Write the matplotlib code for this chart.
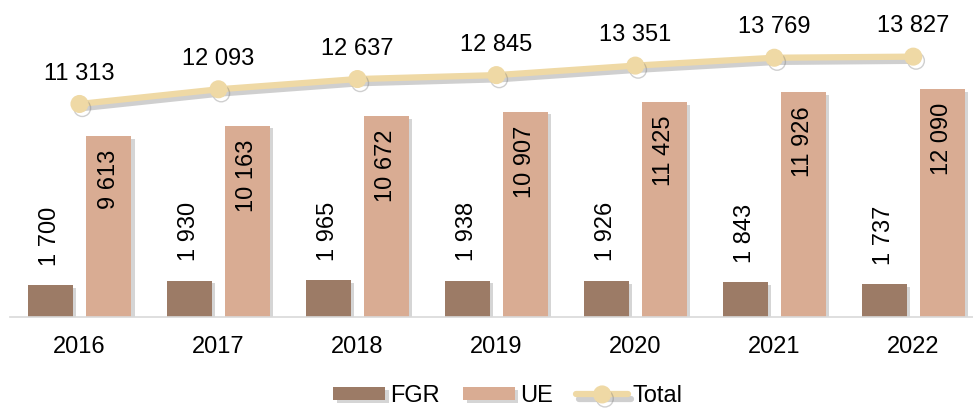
import numpy as np
import matplotlib
matplotlib.use("Agg")
import matplotlib.pyplot as plt
import matplotlib.patheffects as pe

years = ["2016", "2017", "2018", "2019", "2020", "2021", "2022"]
fgr = [1700, 1930, 1965, 1938, 1926, 1843, 1737]
ue = [9613, 10163, 10672, 10907, 11425, 11926, 12090]
total = [11313, 12093, 12637, 12845, 13351, 13769, 13827]

def fmt(v):
    return "{:,}".format(v).replace(",", " ")

plt.rcParams['font.family'] = ['Liberation Sans', 'DejaVu Sans']
fs = 17

fig = plt.figure(figsize=(9.73, 4.08), dpi=100)
ax = fig.add_axes([10 / 973, 1 - 317 / 408, 963 / 973, 317 / 408])

x = np.arange(len(years))
w = 0.324
off = 0.209
shadow = [pe.SimplePatchShadow(offset=(2.5, -2), shadow_rgbFace='#888888', alpha=0.35), pe.Normal()]

b1 = ax.bar(x - off, fgr, w, color='#9C7B66', label='FGR', zorder=2)
b2 = ax.bar(x + off, ue, w, color='#D9AC93', label='UE', zorder=2)
for b in list(b1) + list(b2):
    b.set_path_effects(shadow)

ln, = ax.plot(x, total, color='#EFD9A5', lw=4.5, marker='o', ms=12,
              label='Total', zorder=3, solid_capstyle='round',
              path_effects=[pe.SimpleLineShadow(offset=(2, -3), shadow_color='#777777', alpha=0.35), pe.Normal()])

for i in range(len(years)):
    ax.annotate(fmt(fgr[i]), (x[i] - off, fgr[i]), xytext=(0, 14), textcoords='offset points',
                rotation=90, ha='center', va='bottom', fontsize=fs)
    ax.annotate(fmt(ue[i]), (x[i] + off, ue[i]), xytext=(0, -10), textcoords='offset points',
                rotation=90, ha='center', va='top', fontsize=fs)
    ax.annotate(fmt(total[i]), (x[i], total[i]), xytext=(0, 14), textcoords='offset points',
                ha='center', va='bottom', fontsize=fs)

ax.set_xlim(-0.5, 6.43)
ax.set_ylim(0, 317 / 0.01883)
for s in ['top', 'right', 'left']:
    ax.spines[s].set_visible(False)
ax.spines['bottom'].set_color('#D9D9D9')
ax.spines['bottom'].set_linewidth(1.2)
ax.set_yticks([])
ax.set_xticks(x)
ax.set_xticklabels(years, fontsize=fs)
ax.tick_params(axis='x', length=0, pad=14)

fig.legend(handles=[b1, b2, ln], loc='center', bbox_to_anchor=(508 / 973, 1 - 396 / 408),
           ncol=3, frameon=False, fontsize=fs, handlelength=2.2, handleheight=0.5,
           handletextpad=0.2, columnspacing=1.0, borderaxespad=0, borderpad=0)

fig.savefig("out.png", dpi=100)
